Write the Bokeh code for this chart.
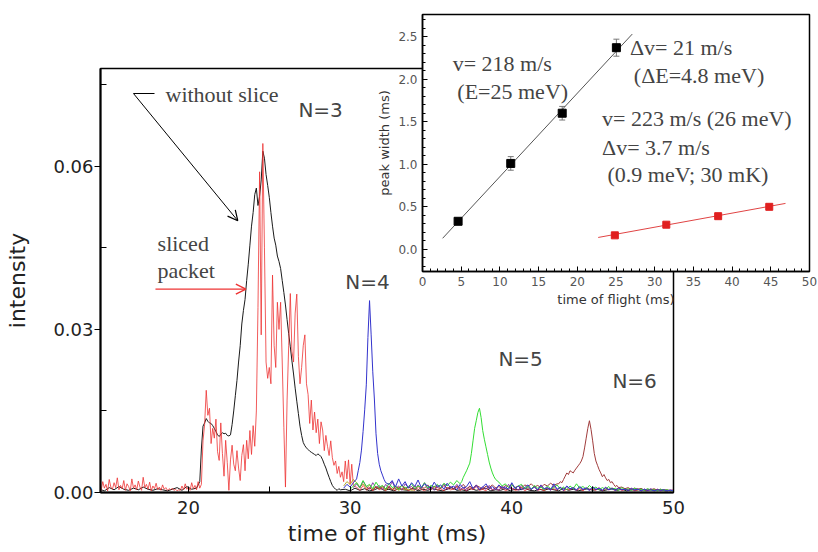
import numpy as np
from bokeh.plotting import figure
from bokeh.models import (Range1d, FixedTicker, SingleIntervalTicker, NumeralTickFormatter,
                          Label, Arrow, OpenHead, TeeHead, Whisker, ColumnDataSource)
from bokeh.embed import file_html
from bokeh.resources import INLINE

# ---------------- main panel data (time of flight in ms, intensity) ----------------
# each trace: list of segments (start time, sampling step, intensities)
black_base = [0.0006, 0.0003, 0.0009, 0.0005, 0.0011, 0.0006, 0.0004, 0.0008, 0.0005, 0.0010,
              0.0006, 0.0004, 0.0007, 0.0005, 0.0003, 0.0006, 0.0009, 0.0004, 0.0011, 0.0006, 0.0008]
black_peak = [0.0020, 0.0080, 0.0122, 0.0128, 0.0136, 0.0131, 0.0128, 0.0127, 0.0123, 0.0118,
              0.0112, 0.0106, 0.0103, 0.0107, 0.0110, 0.0108, 0.0109, 0.0105, 0.0104, 0.0106,
              0.0125, 0.0150, 0.0178, 0.0206, 0.0240, 0.0270, 0.0310, 0.0335, 0.0355, 0.0390,
              0.0420, 0.0455, 0.0490, 0.0515, 0.0548, 0.0560, 0.0528, 0.0545, 0.0575, 0.0628,
              0.0615, 0.0585, 0.0565, 0.0543, 0.0515, 0.0490, 0.0468, 0.0455, 0.0435, 0.0425,
              0.0412, 0.0390, 0.0368, 0.0345, 0.0318, 0.0292, 0.0268, 0.0242, 0.0218, 0.0192,
              0.0168, 0.0145, 0.0122, 0.0105, 0.0092, 0.0086, 0.0082, 0.0079, 0.0076, 0.0074,
              0.0072, 0.0070, 0.0068, 0.0071, 0.0069, 0.0066, 0.0060, 0.0052, 0.0045, 0.0036,
              0.0028, 0.0020, 0.0013, 0.0009, 0.0006, 0.0004, 0.0007, 0.0005]
black_tail = [0.0006, 0.0003, 0.0008, 0.0004, 0.0007, 0.0003, 0.0005, 0.0009, 0.0004, 0.0006,
              0.0003, 0.0007, 0.0005, 0.0004, 0.0008, 0.0003, 0.0006, 0.0004, 0.0007, 0.0005,
              0.0003, 0.0006, 0.0009, 0.0004, 0.0005, 0.0003, 0.0007, 0.0004, 0.0006, 0.0008,
              0.0003, 0.0005, 0.0004, 0.0007, 0.0003, 0.0006, 0.0005, 0.0008, 0.0004, 0.0003,
              0.0006, 0.0004, 0.0007, 0.0005, 0.0003, 0.0008, 0.0004, 0.0006, 0.0003, 0.0005,
              0.0007, 0.0004, 0.0006, 0.0003, 0.0005, 0.0008, 0.0004, 0.0006, 0.0003, 0.0005,
              0.0004, 0.0007, 0.0003, 0.0006, 0.0004, 0.0005, 0.0003, 0.0004]
black_segments = [(14.5, 0.3, black_base), (20.7, 0.1, black_peak), (29.7, 0.3, black_tail)]

red_base = [0.0012, 0.0004, 0.0020, 0.0008, 0.0015, 0.0003, 0.0024, 0.0010, 0.0006, 0.0018,
            0.0009, 0.0027, 0.0005, 0.0013, 0.0007, 0.0022, 0.0004, 0.0016, 0.0011, 0.0003,
            0.0025, 0.0008, 0.0014, 0.0005, 0.0021, 0.0010, 0.0004, 0.0028, 0.0009, 0.0015,
            0.0006, 0.0019, 0.0003, 0.0012, 0.0007, 0.0017, 0.0005, 0.0010, 0.0004, 0.0014,
            0.0006, 0.0009, 0.0004, 0.0007, 0.0005, 0.0008, 0.0004, 0.0006, 0.0003, 0.0005,
            0.0004, 0.0012, 0.0005, 0.0016, 0.0006, 0.0010, 0.0004, 0.0018, 0.0007, 0.0013,
            0.0005, 0.0020, 0.0008, 0.0015]
red_peak = [0.0095, 0.0125, 0.0188, 0.0142, 0.0155, 0.0090, 0.0118, 0.0100, 0.0135, 0.0075,
            0.0059, 0.0128, 0.0072, 0.0030, 0.0096, 0.0055, 0.0004, 0.0060, 0.0087, 0.0052,
            0.0040, 0.0077, 0.0045, 0.0022, 0.0068, 0.0088, 0.0040, 0.0096, 0.0062, 0.0114,
            0.0070, 0.0123, 0.0085, 0.0150, 0.0340, 0.0590, 0.0290, 0.0642, 0.0450, 0.0240,
            0.0210, 0.0230, 0.0200, 0.0400, 0.0270, 0.0230, 0.0350, 0.0300, 0.0350, 0.0240,
            0.0120, 0.0010, 0.0170, 0.0270, 0.0366, 0.0260, 0.0240, 0.0330, 0.0365, 0.0250,
            0.0200, 0.0230, 0.0270, 0.0290, 0.0200, 0.0180, 0.0127, 0.0170, 0.0115, 0.0148,
            0.0110, 0.0135, 0.0090, 0.0130, 0.0115, 0.0077, 0.0105, 0.0085, 0.0068, 0.0095,
            0.0064, 0.0050, 0.0058, 0.0035, 0.0048, 0.0028, 0.0038, 0.0020, 0.0058, 0.0025,
            0.0060, 0.0015, 0.0052, 0.0012]
red_tail = [0.0010, 0.0004, 0.0013, 0.0006, 0.0009, 0.0003, 0.0011, 0.0005, 0.0008, 0.0003,
            0.0012, 0.0006, 0.0004, 0.0009, 0.0005, 0.0010, 0.0003, 0.0007, 0.0004, 0.0011,
            0.0006, 0.0003, 0.0008, 0.0005, 0.0012, 0.0004, 0.0007, 0.0003, 0.0009, 0.0005,
            0.0006, 0.0010, 0.0004, 0.0007, 0.0003, 0.0008, 0.0005, 0.0011, 0.0004, 0.0006,
            0.0003, 0.0009, 0.0005, 0.0007, 0.0004, 0.0010, 0.0003, 0.0006, 0.0008, 0.0004,
            0.0005, 0.0009, 0.0003, 0.0007, 0.0005, 0.0011, 0.0004, 0.0006, 0.0003, 0.0008,
            0.0005, 0.0007, 0.0004, 0.0010, 0.0003, 0.0006, 0.0005, 0.0009, 0.0004, 0.0007,
            0.0003, 0.0008, 0.0005, 0.0006, 0.0004, 0.0009, 0.0003, 0.0007, 0.0005, 0.0006,
            0.0004, 0.0008, 0.0003, 0.0006, 0.0005, 0.0007, 0.0003, 0.0005, 0.0004, 0.0006,
            0.0003, 0.0005, 0.0004, 0.0006, 0.0003, 0.0005, 0.0004, 0.0003, 0.0005]
red_segments = [(14.5, 0.1, red_base), (20.9, 0.1, red_peak), (30.4, 0.2, red_tail)]

blue_pre = [0.0008, 0.0015, 0.0010, 0.0018]
blue_peak = [0.0025, 0.0040, 0.0055, 0.0078, 0.0112, 0.0152, 0.0198, 0.0285, 0.0353, 0.0290,
             0.0222, 0.0172, 0.0108, 0.0072, 0.0052, 0.0040, 0.0032, 0.0024, 0.0018]
blue_tail = [0.0015, 0.0022, 0.0010, 0.0025, 0.0012, 0.0020, 0.0008, 0.0018, 0.0011, 0.0023,
             0.0009, 0.0016, 0.0012, 0.0007, 0.0019, 0.0010, 0.0014, 0.0006, 0.0017, 0.0009,
             0.0012, 0.0005, 0.0015, 0.0008, 0.0011, 0.0020, 0.0007, 0.0013, 0.0006, 0.0010,
             0.0016, 0.0007, 0.0011, 0.0005, 0.0014, 0.0008, 0.0010, 0.0006, 0.0018, 0.0007,
             0.0012, 0.0005, 0.0009, 0.0014, 0.0006, 0.0010, 0.0005, 0.0013, 0.0007, 0.0009,
             0.0005, 0.0016, 0.0006, 0.0010, 0.0004, 0.0012, 0.0007, 0.0009, 0.0005, 0.0011,
             0.0006, 0.0008, 0.0004, 0.0010, 0.0006, 0.0008, 0.0004, 0.0009, 0.0005, 0.0007,
             0.0004, 0.0008, 0.0005, 0.0006, 0.0004, 0.0007, 0.0005, 0.0006, 0.0003, 0.0006,
             0.0004, 0.0005, 0.0003, 0.0005, 0.0004, 0.0005, 0.0003, 0.0004, 0.0003]
blue_segments = [(29.6, 0.2, blue_pre), (30.4, 0.1, blue_peak), (32.4, 0.2, blue_tail)]

green_pre = [0.0006, 0.0012, 0.0018, 0.0009, 0.0022, 0.0011, 0.0015, 0.0007, 0.0019, 0.0010,
             0.0013, 0.0006, 0.0017, 0.0009, 0.0012, 0.0005, 0.0014, 0.0008, 0.0011, 0.0016,
             0.0007, 0.0012, 0.0009, 0.0018, 0.0008, 0.0013, 0.0010, 0.0015, 0.0009, 0.0017,
             0.0012, 0.0019, 0.0014, 0.0022, 0.0016]
green_peak = [0.0020, 0.0028, 0.0034, 0.0040, 0.0047, 0.0054, 0.0072, 0.0095, 0.0118, 0.0132,
              0.0147, 0.0155, 0.0138, 0.0114, 0.0098, 0.0084, 0.0070, 0.0056, 0.0045, 0.0036,
              0.0029, 0.0024]
green_tail = [0.0019, 0.0012, 0.0016, 0.0009, 0.0014, 0.0008, 0.0012, 0.0015, 0.0007, 0.0011,
              0.0006, 0.0013, 0.0008, 0.0010, 0.0005, 0.0012, 0.0007, 0.0009, 0.0014, 0.0006,
              0.0010, 0.0005, 0.0012, 0.0007, 0.0016, 0.0008, 0.0011, 0.0006, 0.0013, 0.0007,
              0.0010, 0.0005, 0.0009, 0.0006, 0.0011, 0.0005, 0.0008, 0.0004, 0.0009, 0.0005,
              0.0007, 0.0004, 0.0008, 0.0005, 0.0006, 0.0004, 0.0007, 0.0004, 0.0005, 0.0003,
              0.0006, 0.0004, 0.0005, 0.0003, 0.0004]
green_segments = [(30.0, 0.2, green_pre), (36.9, 0.1, green_peak), (39.2, 0.2, green_tail)]

brown_pre = [0.0004, 0.0008, 0.0005, 0.0010, 0.0006, 0.0012, 0.0007, 0.0009, 0.0005, 0.0011,
             0.0008, 0.0013, 0.0006, 0.0010, 0.0007, 0.0012, 0.0005, 0.0009, 0.0008, 0.0014,
             0.0006, 0.0011, 0.0009, 0.0007, 0.0013, 0.0008, 0.0010, 0.0006, 0.0012, 0.0009,
             0.0015, 0.0007, 0.0011, 0.0008, 0.0013, 0.0010, 0.0006, 0.0012, 0.0009, 0.0014,
             0.0008, 0.0011, 0.0007, 0.0013, 0.0010, 0.0015, 0.0009, 0.0012, 0.0008, 0.0014,
             0.0011, 0.0016, 0.0010, 0.0013, 0.0009, 0.0015, 0.0012, 0.0017, 0.0013, 0.0016]
brown_peak = [0.0016, 0.0020, 0.0018, 0.0024, 0.0030, 0.0036, 0.0033, 0.0040, 0.0038, 0.0036,
              0.0041, 0.0045, 0.0049, 0.0053, 0.0058, 0.0066, 0.0082, 0.0100, 0.0118, 0.0132,
              0.0116, 0.0095, 0.0072, 0.0058, 0.0050, 0.0042, 0.0036, 0.0029, 0.0033, 0.0027,
              0.0022, 0.0024, 0.0018, 0.0020, 0.0015, 0.0011, 0.0013, 0.0009]
brown_tail = [0.0010, 0.0007, 0.0009, 0.0005, 0.0008, 0.0006, 0.0007, 0.0004, 0.0006, 0.0005,
              0.0007, 0.0004, 0.0006, 0.0004, 0.0005, 0.0003, 0.0004]
brown_segments = [(31.0, 0.2, brown_pre), (42.9, 0.1, brown_peak), (46.8, 0.2, brown_tail)]

purple_vals = [0.0009, 0.0016, 0.0008, 0.0021, 0.0011, 0.0006, 0.0018, 0.0009, 0.0013, 0.0005,
               0.0015, 0.0008, 0.0020, 0.0007, 0.0012, 0.0004, 0.0016, 0.0009, 0.0011, 0.0005,
               0.0014, 0.0007, 0.0018, 0.0006, 0.0010, 0.0004, 0.0013, 0.0008, 0.0016, 0.0005,
               0.0011, 0.0007, 0.0015, 0.0006, 0.0009, 0.0004, 0.0012, 0.0007, 0.0014, 0.0005,
               0.0010, 0.0006, 0.0013, 0.0005, 0.0009, 0.0004, 0.0012, 0.0006, 0.0015, 0.0005,
               0.0010, 0.0004, 0.0013, 0.0006, 0.0009, 0.0005, 0.0011, 0.0004, 0.0014, 0.0006,
               0.0008, 0.0004, 0.0012, 0.0005, 0.0009, 0.0004, 0.0011, 0.0006, 0.0008, 0.0004,
               0.0010, 0.0005, 0.0009, 0.0004, 0.0011, 0.0005, 0.0008, 0.0004, 0.0010, 0.0005,
               0.0008, 0.0004, 0.0009, 0.0005, 0.0007, 0.0004, 0.0008, 0.0004, 0.0007, 0.0003,
               0.0006, 0.0004, 0.0007, 0.0003, 0.0006, 0.0004, 0.0005, 0.0003, 0.0005, 0.0004]
purple_segments = [(30.2, 0.2, purple_vals)]

olive_vals = [0.0012, 0.0020, 0.0015, 0.0024, 0.0018, 0.0010, 0.0016, 0.0008, 0.0013, 0.0006,
              0.0011, 0.0007, 0.0010, 0.0005, 0.0009, 0.0006, 0.0008, 0.0004, 0.0007, 0.0005,
              0.0006, 0.0004, 0.0005]
olive_segments = [(29.6, 0.2, olive_vals)]

x_ticks = [20, 30, 40, 50]
x_minor = [25, 35, 45]
y_ticks = [0.0, 0.03, 0.06]
y_minor = [0.015, 0.045, 0.075]

# ---------------- inset data ----------------
tof_unsliced = [4.6, 11.4, 18.05, 25.05]
width_unsliced = [0.33, 1.01, 1.60, 2.37]
err_unsliced = [0.03, 0.08, 0.08, 0.10]
tof_sliced = [24.85, 31.5, 38.2, 44.8]
width_sliced = [0.165, 0.29, 0.39, 0.50]
fit_unsliced_x = [2.6, 27.1]
fit_unsliced_y = [0.13, 2.53]
fit_sliced_x = [22.7, 46.9]
fit_sliced_y = [0.14, 0.54]
inset_x_ticks_interval = 5
inset_y_ticks_interval = 0.5


def build(segments):
    xs, ys = [], []
    for t0, dt, vals in segments:
        xs.extend(list(t0 + dt * np.arange(len(vals))))
        ys.extend(vals)
    return xs, ys


SANS = "DejaVu Sans"
SERIF = "Liberation Serif"

# ---------------- main figure ----------------
p = figure(width=818, height=552, x_range=Range1d(14.56, 50), y_range=Range1d(0, 0.078),
           output_backend="svg", toolbar_location=None,
           min_border_left=100, min_border_right=145, min_border_top=68, min_border_bottom=60,
           styles={"position": "absolute", "left": "0px", "top": "0px"})
p.grid.visible = False
p.outline_line_color = "black"
p.outline_line_width = 1.5
p.background_fill_color = "white"

p.xaxis.ticker = FixedTicker(ticks=x_ticks, minor_ticks=x_minor)
p.yaxis.ticker = FixedTicker(ticks=y_ticks, minor_ticks=y_minor)
p.yaxis.formatter = NumeralTickFormatter(format="0.00")
for ax in (p.xaxis[0], p.yaxis[0]):
    ax.axis_line_width = 2
    ax.axis_line_color = "black"
    ax.major_label_text_font = SANS
    ax.major_label_text_font_size = "18px"
    ax.major_label_text_color = "#222222"
    ax.axis_label_text_font = SANS
    ax.axis_label_text_font_size = "22px"
    ax.axis_label_text_font_style = "normal"
    ax.axis_label_text_color = "#222222"
p.xaxis.major_tick_in = 6
p.xaxis.major_tick_out = 0
p.xaxis.minor_tick_in = 6
p.xaxis.minor_tick_out = 0
p.xaxis.major_label_standoff = 8
p.xaxis.axis_label_standoff = 4
p.xaxis.axis_label = "time of flight (ms)"
p.yaxis.major_tick_in = 0
p.yaxis.major_tick_out = 6
p.yaxis.minor_tick_in = 6
p.yaxis.minor_tick_out = 0
p.yaxis.major_label_standoff = 1
p.yaxis.axis_label_standoff = 20
p.yaxis.axis_label = "intensity"

colors = {
    "black": "#1a1a1a", "red": "#ee3333", "olive": "#b3a21e", "purple": "#7b2fa0",
    "brown": "#a03c3c", "green": "#33dd33", "blue": "#3333cc",
}
for seg, col, alpha in [(black_segments, colors["black"], 1.0),
                        (red_segments, colors["red"], 0.8),
                        (olive_segments, colors["olive"], 0.9),
                        (purple_segments, colors["purple"], 0.9),
                        (brown_segments, colors["brown"], 1.0),
                        (green_segments, colors["green"], 1.0),
                        (blue_segments, colors["blue"], 1.0)]:
    xs, ys = build(seg)
    p.line(xs, ys, line_color=col, line_width=1, line_alpha=alpha)

# annotations
p.add_layout(Label(x=18.58, y=0.0732, text="without slice", text_font=SERIF,
                   text_font_size="22px", text_baseline="middle"))
p.add_layout(Label(x=26.8, y=0.0703, text="N=3", text_font=SANS, text_font_size="20px",
                   text_baseline="middle"))
p.add_layout(Label(x=18.09, y=0.0458, text="sliced", text_font=SERIF, text_font_size="22px",
                   text_baseline="middle"))
p.add_layout(Label(x=18.09, y=0.0408, text="packet", text_font=SERIF, text_font_size="22px",
                   text_baseline="middle"))
p.add_layout(Label(x=29.7, y=0.0388, text="N=4", text_font=SANS, text_font_size="20px",
                   text_baseline="middle"))
p.add_layout(Label(x=39.17, y=0.0245, text="N=5", text_font=SANS, text_font_size="20px",
                   text_baseline="middle"))
p.add_layout(Label(x=46.22, y=0.0206, text="N=6", text_font=SANS, text_font_size="20px",
                   text_baseline="middle"))
p.add_layout(Arrow(end=None, x_start=16.60, y_start=0.0734, x_end=17.90, y_end=0.0734,
                   line_color="black", line_width=1))
p.add_layout(Arrow(end=OpenHead(size=10, line_color="black", line_width=1.2),
                   x_start=16.60, y_start=0.0734, x_end=23.05, y_end=0.0500,
                   line_color="black", line_width=1))
p.add_layout(Arrow(end=OpenHead(size=10, line_color="#ee3333", line_width=1.5),
                   x_start=17.96, y_start=0.0374, x_end=23.55, y_end=0.0374,
                   line_color="#ee3333", line_width=1.2))

# ---------------- inset figure ----------------
ins = figure(width=448, height=315, x_range=Range1d(0, 50), y_range=Range1d(-0.26, 2.76),
             output_backend="svg", toolbar_location=None,
             min_border_left=52, min_border_right=9, min_border_top=14, min_border_bottom=44,
             styles={"position": "absolute", "left": "370px", "top": "0px"})
ins.grid.visible = False
ins.border_fill_color = None
ins.background_fill_color = "white"
ins.outline_line_color = "black"
ins.outline_line_width = 1.5
ins.xaxis.ticker = SingleIntervalTicker(interval=inset_x_ticks_interval, num_minor_ticks=5)
ins.yaxis.ticker = SingleIntervalTicker(interval=inset_y_ticks_interval, num_minor_ticks=5)
ins.yaxis.formatter = NumeralTickFormatter(format="0.0")
for ax in (ins.xaxis[0], ins.yaxis[0]):
    ax.axis_line_width = 1.5
    ax.major_tick_in = 5
    ax.major_tick_out = 0
    ax.minor_tick_in = 3
    ax.minor_tick_out = 0
    ax.major_label_text_font = SANS
    ax.major_label_text_font_size = "12px"
    ax.major_label_text_color = "#555555"
    ax.major_label_standoff = 5
    ax.axis_label_text_font = SANS
    ax.axis_label_text_font_size = "13px"
    ax.axis_label_text_font_style = "normal"
    ax.axis_label_text_color = "#333333"
    ax.axis_label_standoff = 3
ins.xaxis.axis_label = "time of flight (ms)"
ins.yaxis.axis_label = "peak width (ms)"

ins.line(fit_unsliced_x, fit_unsliced_y, line_color="#555555", line_width=1)
ins.line(fit_sliced_x, fit_sliced_y, line_color="#e04444", line_width=1)
src = ColumnDataSource(dict(x=tof_unsliced, y=width_unsliced,
                            lo=[w - e for w, e in zip(width_unsliced, err_unsliced)],
                            hi=[w + e for w, e in zip(width_unsliced, err_unsliced)]))
ins.add_layout(Whisker(source=src, base="x", lower="lo", upper="hi", line_color="#777777",
                       line_width=1,
                       lower_head=TeeHead(size=6, line_color="#777777"),
                       upper_head=TeeHead(size=6, line_color="#777777")))
ins.scatter("x", "y", source=src, marker="square", size=8, color="black")
ins.scatter(tof_sliced, width_sliced, marker="square", size=7, color="#e02020")

for tx, ty, txt in [(3.9, 2.19, "v= 218 m/s"), (4.5, 1.86, "(E=25 meV)"),
                    (26.8, 2.37, "Δv= 21 m/s"), (27.3, 2.04, "(ΔE=4.8 meV)"),
                    (23.2, 1.54, "v= 223 m/s (26 meV)"), (23.2, 1.20, "Δv= 3.7 m/s"),
                    (23.9, 0.88, "(0.9 meV; 30 mK)")]:
    ins.add_layout(Label(x=tx, y=ty, text=txt, text_font=SERIF, text_font_size="22px",
                         text_baseline="middle"))

open("out.html", "w").write(file_html([p, ins], INLINE))
